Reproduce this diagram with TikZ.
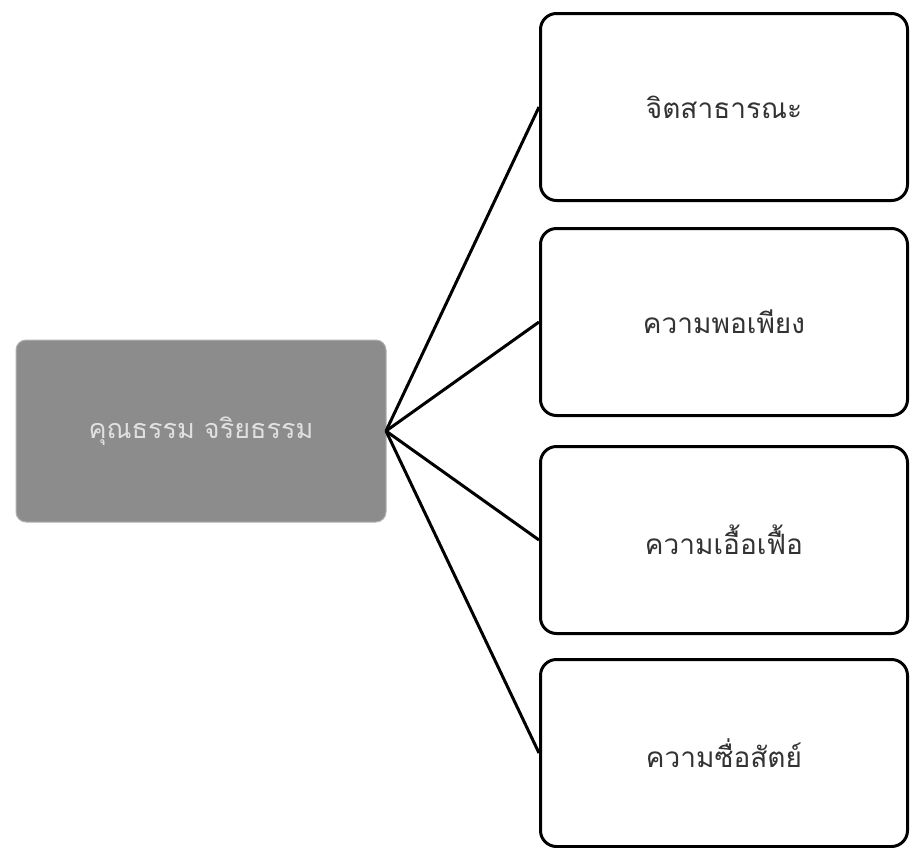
\documentclass[tikz,border=0pt]{standalone}
\usepackage{fontspec}
\newfontfamily\thaifont[Script=Thai]{Loma}
\begin{document}
\begin{tikzpicture}[x=1pt,y=1pt,
  leaf/.style={draw=black, line width=3pt, rounded corners=16pt, fill=white,
    minimum width=367pt, minimum height=187pt, inner sep=0pt, text=black!80,
    font=\thaifont\fontsize{28}{32}\selectfont},
  hub/.style={fill=black!45, draw=black!30, line width=1pt, rounded corners=10pt,
    minimum width=370pt, minimum height=182pt, inner sep=0pt, text=black!12,
    font=\thaifont\fontsize{27}{31}\selectfont},
  link/.style={line width=3pt, draw=black}]
\useasboundingbox[fill=white] (0,0) rectangle (911,-847);
\node[hub] (c) at (201,-431) {คุณธรรม จริยธรรม};
\node[leaf] (a1) at (724,-107) {จิตสาธารณะ};
\node[leaf] (a2) at (724,-322) {ความพอเพียง};
\node[leaf] (a3) at (724,-540) {ความเอื้อเฟื้อ};
\node[leaf] (a4) at (724,-753) {ความซื่อสัตย์};
\coordinate (h) at (386,-431);
\draw[link] (h) -- (a1.west);
\draw[link] (h) -- (a2.west);
\draw[link] (h) -- (a3.west);
\draw[link] (h) -- (a4.west);
\end{tikzpicture}
\end{document}
